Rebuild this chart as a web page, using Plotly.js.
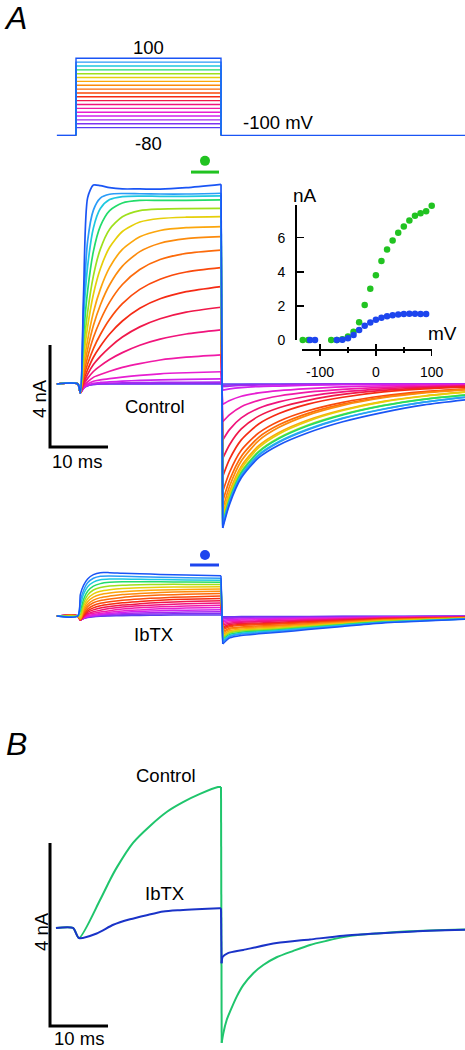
<!DOCTYPE html>
<html>
<head>
<meta charset="utf-8">
<script src="https://cdn.plot.ly/plotly-3.0.1.min.js"></script>
<style>html,body{margin:0;padding:0;background:#fff}#chart{width:465px;height:1050px}</style>
</head>
<body>
<div id="chart"></div>
<script>
// ---------- data ----------
const STEP_MV = [-80,-70,-60,-50,-40,-30,-20,-10,0,10,20,30,40,50,60,70,80,90,100];
const HOLD_MV = -100;
const HOLD_T = [-3.3, 0, null, 25, 67.2];   // ms, holding segments
const PULSE_T = [0, 0, 25, 25];             // ms, step pulse
const STEP_T = [-3.3, 0.3, 0.75, 1.3, 2, 3, 4.2, 5.8, 8, 11, 14.5, 19, 25];  // ms
const TAIL_T = [25.3, 26.5, 28.5, 31.5, 35, 40, 46, 53, 60, 67.2];         // ms

// Control currents (nA), rows in STEP_MV order
const CTRL_STEP = [
 [0,0,-0.35,-0.16,-0.07,-0.02,0,0,0,0,0,0,0],
 [0,0,-0.35,-0.16,-0.07,-0.02,0,0.01,0.01,0.01,0.02,0.02,0.02],
 [0,0,-0.35,-0.16,-0.06,0.0,0.02,0.03,0.04,0.05,0.06,0.06,0.07],
 [0,0,-0.35,-0.15,-0.05,0.03,0.06,0.08,0.11,0.14,0.16,0.18,0.2],
 [0,0,-0.35,-0.13,0.0,0.11,0.16,0.21,0.27,0.34,0.4,0.44,0.48],
 [0,0,-0.35,-0.09,0.08,0.26,0.37,0.5,0.65,0.8,0.94,1.05,1.14],
 [0,0,-0.35,-0.02,0.22,0.49,0.71,0.96,1.23,1.52,1.76,1.96,2.12],
 [0,0,-0.35,0.05,0.38,0.76,1.08,1.44,1.84,2.24,2.56,2.82,3.01],
 [0,0,-0.35,0.14,0.56,1.05,1.48,1.96,2.47,2.97,3.34,3.62,3.82],
 [0,0,-0.35,0.25,0.78,1.39,1.94,2.54,3.15,3.71,4.11,4.39,4.56],
 [0,0,-0.35,0.38,1.05,1.82,2.5,3.21,3.9,4.49,4.88,5.12,5.25],
 [0,0,-0.35,0.54,1.36,2.29,3.1,3.89,4.62,5.19,5.52,5.7,5.78],
 [0,0,-0.35,0.74,1.72,2.81,3.72,4.57,5.28,5.77,6.02,6.13,6.17],
 [0,0,-0.35,1.02,2.24,3.52,4.52,5.36,5.98,6.35,6.49,6.54,6.56],
 [0,0,-0.35,1.36,2.81,4.24,5.29,6.07,6.56,6.8,6.86,6.88,6.89],
 [0,0,-0.35,1.88,3.64,5.2,6.19,6.8,7.1,7.2,7.2,7.2,7.22],
 [0,0,-0.35,2.57,4.6,6.12,6.88,7.23,7.35,7.37,7.36,7.36,7.38],
 [0,0,-0.35,3.0,5.6,6.82,7.29,7.44,7.47,7.46,7.45,7.45,7.48],
 [0,0,-0.35,3.5,7.3,7.8,7.78,7.7,7.65,7.65,7.64,7.7,7.83]
];
const CTRL_TAIL = [
 [0,0,0,0,0,0,0,0,0,0],
 [-0.05,-0.04,-0.03,-0.02,-0.02,-0.01,0,0,0,0],
 [-0.10,-0.08,-0.06,-0.04,-0.03,-0.02,-0.01,0,0,0],
 [-0.24,-0.19,-0.14,-0.10,-0.08,-0.05,-0.03,-0.02,-0.01,-0.01],
 [-0.80,-0.65,-0.48,-0.35,-0.26,-0.18,-0.11,-0.07,-0.04,-0.03],
 [-1.48,-1.20,-0.89,-0.64,-0.47,-0.32,-0.21,-0.13,-0.08,-0.05],
 [-2.20,-1.78,-1.33,-0.95,-0.70,-0.48,-0.31,-0.19,-0.11,-0.07],
 [-2.92,-2.37,-1.76,-1.26,-0.93,-0.64,-0.41,-0.25,-0.15,-0.09],
 [-3.63,-2.94,-2.19,-1.57,-1.16,-0.79,-0.52,-0.31,-0.19,-0.12],
 [-4.22,-3.45,-2.60,-1.92,-1.46,-1.05,-0.72,-0.46,-0.30,-0.19],
 [-4.60,-3.76,-2.84,-2.09,-1.60,-1.15,-0.79,-0.51,-0.33,-0.21],
 [-4.90,-4.00,-3.02,-2.22,-1.70,-1.22,-0.84,-0.54,-0.35,-0.23],
 [-5.12,-4.21,-3.22,-2.42,-1.90,-1.41,-1.01,-0.68,-0.47,-0.31],
 [-5.28,-4.34,-3.32,-2.50,-1.96,-1.46,-1.04,-0.70,-0.48,-0.32],
 [-5.40,-4.46,-3.44,-2.64,-2.11,-1.61,-1.19,-0.84,-0.59,-0.42],
 [-5.48,-4.52,-3.49,-2.67,-2.14,-1.64,-1.21,-0.85,-0.60,-0.43],
 [-5.53,-4.58,-3.57,-2.77,-2.26,-1.77,-1.34,-0.98,-0.71,-0.51],
 [-5.58,-4.62,-3.60,-2.80,-2.28,-1.79,-1.35,-0.99,-0.71,-0.52],
 [-5.65,-4.70,-3.68,-2.89,-2.39,-1.91,-1.48,-1.11,-0.82,-0.62]
];

// IbTX currents (nA), rows in STEP_MV order
const IBTX_STEP = [
 [0,0,-0.16,-0.1,-0.06,-0.03,-0.01,0,0.01,0.02,0.03,0.04,0.04],
 [0,0,-0.16,-0.1,-0.05,-0.02,0.01,0.03,0.05,0.07,0.08,0.09,0.10],
 [0,0,-0.16,-0.09,-0.04,0,0.03,0.06,0.09,0.12,0.14,0.16,0.17],
 [0,0,-0.16,-0.08,-0.02,0.02,0.06,0.1,0.14,0.18,0.21,0.23,0.25],
 [0,0,-0.16,-0.07,0.01,0.06,0.1,0.15,0.2,0.24,0.28,0.31,0.33],
 [0,0,-0.16,-0.05,0.05,0.11,0.16,0.21,0.27,0.32,0.36,0.39,0.42],
 [0,0,-0.16,-0.03,0.09,0.17,0.23,0.29,0.35,0.4,0.44,0.48,0.51],
 [0,0,-0.16,0.0,0.14,0.24,0.31,0.37,0.43,0.48,0.53,0.57,0.60],
 [0,0,-0.16,0.03,0.2,0.32,0.4,0.46,0.52,0.57,0.62,0.66,0.69],
 [0,0,-0.15,0.08,0.27,0.41,0.5,0.56,0.62,0.67,0.71,0.75,0.78],
 [0,0,-0.14,0.13,0.36,0.52,0.61,0.67,0.73,0.78,0.82,0.85,0.88],
 [0,0,-0.12,0.2,0.45,0.62,0.72,0.78,0.84,0.88,0.92,0.95,0.97],
 [0,0,-0.1,0.28,0.56,0.74,0.84,0.9,0.95,0.99,1.02,1.04,1.06],
 [0,0,-0.05,0.38,0.68,0.87,0.97,1.03,1.08,1.11,1.13,1.14,1.15],
 [0,0,0.05,0.5,0.82,1.02,1.12,1.18,1.21,1.23,1.24,1.24,1.24],
 [0,0,0.2,0.65,0.97,1.17,1.27,1.32,1.34,1.34,1.34,1.33,1.32],
 [0,0,0.4,0.85,1.15,1.33,1.42,1.45,1.45,1.44,1.43,1.41,1.40],
 [0,0,0.6,1.0,1.3,1.48,1.56,1.57,1.56,1.54,1.52,1.5,1.48],
 [0,0,0.85,1.2,1.45,1.62,1.7,1.7,1.68,1.66,1.63,1.61,1.58]
];
const IBTX_TAIL = [
 [-0.03,-0.03,-0.02,-0.02,-0.02,-0.02,-0.01,-0.01,-0.01,0],
 [-0.07,-0.05,-0.05,-0.04,-0.04,-0.03,-0.02,-0.02,-0.01,-0.01],
 [-0.12,-0.09,-0.08,-0.08,-0.07,-0.06,-0.05,-0.03,-0.02,-0.01],
 [-0.18,-0.14,-0.12,-0.11,-0.10,-0.08,-0.07,-0.04,-0.03,-0.02],
 [-0.23,-0.18,-0.16,-0.15,-0.13,-0.11,-0.09,-0.06,-0.04,-0.03],
 [-0.30,-0.23,-0.21,-0.19,-0.17,-0.14,-0.11,-0.07,-0.05,-0.04],
 [-0.35,-0.28,-0.24,-0.22,-0.20,-0.17,-0.13,-0.09,-0.06,-0.04],
 [-0.42,-0.33,-0.29,-0.27,-0.24,-0.20,-0.16,-0.10,-0.08,-0.05],
 [-0.48,-0.38,-0.33,-0.31,-0.28,-0.23,-0.18,-0.12,-0.09,-0.06],
 [-0.54,-0.42,-0.37,-0.34,-0.31,-0.26,-0.20,-0.13,-0.10,-0.06],
 [-0.62,-0.48,-0.43,-0.39,-0.36,-0.30,-0.23,-0.15,-0.11,-0.07],
 [-0.67,-0.52,-0.46,-0.43,-0.39,-0.32,-0.25,-0.16,-0.12,-0.08],
 [-0.74,-0.58,-0.51,-0.47,-0.43,-0.36,-0.27,-0.18,-0.13,-0.09],
 [-0.80,-0.63,-0.55,-0.51,-0.47,-0.39,-0.30,-0.20,-0.15,-0.09],
 [-0.86,-0.67,-0.59,-0.55,-0.50,-0.41,-0.32,-0.21,-0.16,-0.10],
 [-0.92,-0.72,-0.64,-0.59,-0.54,-0.45,-0.34,-0.23,-0.17,-0.11],
 [-0.98,-0.77,-0.68,-0.62,-0.57,-0.47,-0.36,-0.24,-0.18,-0.12],
 [-1.03,-0.81,-0.71,-0.66,-0.60,-0.50,-0.39,-0.25,-0.19,-0.12],
 [-1.10,-0.86,-0.76,-0.70,-0.64,-0.53,-0.41,-0.27,-0.20,-0.13]
];

// I-V inset
const IV_CTRL_MV = [-131,-121,-80,-70,-60,-50,-40,-30,-20,-10,0,10,20,30,40,50,60,70,80,90,100];
const IV_CTRL_NA = [0,0,0,0,0.05,0.2,0.49,1.04,2.05,3.0,3.8,4.63,5.31,5.84,6.29,6.66,7.01,7.29,7.44,7.56,7.87];
const IV_IBTX_MV = [-118,-109,-70,-60,-50,-40,-30,-20,-10,0,10,20,30,40,50,60,70,80,90];
const IV_IBTX_NA = [0,0,0,0.02,0.1,0.3,0.58,0.84,1.03,1.19,1.31,1.39,1.45,1.5,1.52,1.54,1.54,1.52,1.52];
const IV_XTICKS = [-100,0,100];
const IV_XTICKTEXT = ['-100','0','100'];
const IV_XMINOR = [-50,50];
const IV_YTICKS = [0,2,4,6];
const IV_YTICKTEXT = ['0','2','4','6'];

// measurement windows (ms, nA)
const CTRL_WIN_T = [19.83, 24.66], CTRL_WIN_NA = [8.31, 8.31];
const CTRL_DOT_T = [22.24], CTRL_DOT_NA = [8.75];
const IBTX_WIN_T = [19.66, 24.66], IBTX_WIN_NA = [2.0, 2.0];
const IBTX_DOT_T = [22.24], IBTX_DOT_NA = [2.39];

// scale bars (10 ms, 4 nA)
const SB_A_T = [-4.48, -4.48, 5.52], SB_A_NA = [1.53, -2.47, -2.47];
const SB_B_T = [-4.48, -4.48, 5.52], SB_B_NA = [1.858, -2.142, -2.142];

// Panel B traces (ms, nA)
const B_CTRL_STEP_T  = [-3.45,-0.52,0.52,4.14,5.86,7.07,9.83,12.76,15.69,18.45,21.38,24.48,25];
const B_CTRL_STEP_NA = [0,0,-0.22,0.61,1.05,1.33,1.86,2.23,2.54,2.75,2.93,3.08,3.08];
const B_CTRL_TAIL_T  = [25.12,25.4,25.98,26.55,27.71,28.84,30.57,32.29,34.59,37.47,40.34,43.22,46.09,48.97,51.84,57.59,67.2];
const B_CTRL_TAIL_NA = [-2.51,-2.30,-2.01,-1.83,-1.50,-1.25,-0.99,-0.81,-0.64,-0.50,-0.37,-0.28,-0.20,-0.15,-0.12,-0.07,-0.03];
const B_IBTX_STEP_T  = [-3.45,-0.52,0.52,3.57,6.43,9.31,12.19,15.05,17.93,20.81,24.71,25];
const B_IBTX_STEP_NA = [0,0,-0.22,-0.12,0.07,0.19,0.28,0.36,0.39,0.41,0.43,0.43];
const B_IBTX_TAIL_T  = [25.1,25.3,26.2,28.84,34.59,40.34,46.09,51.84,57.59,67.2];
const B_IBTX_TAIL_NA = [-0.77,-0.63,-0.55,-0.48,-0.33,-0.25,-0.17,-0.12,-0.08,-0.04];

// ---------- styles ----------
const STEP_COLORS = ['#5a3cf2','#7e32f2','#a52af0','#cf22ee','#e61ed2','#f01aa8','#f0147c','#f0184a','#f52a14','#fa4a0c','#fc6a0a','#fc8a0c','#fca60c','#e6cf0a','#9ee01c','#22dc6a','#1ec8e0','#2a9cf8','#1a55f5'];
const HOLD_COLOR = '#1a55f5';
const GREEN = '#21c321', BLUE = '#1d45ee', B_GREEN = '#1fc56c', B_BLUE = '#1a33c8';
const FONT = 'Liberation Sans, Arial, Helvetica, sans-serif';
const W = 465, H = 1050;
const fx = p => p / W, fy = p => 1 - p / H;
const T_RANGE = [-13.103, 67.069];
const IV_XRANGE = [-132.3, 100.5];
const SMOOTH = 0.7;

// joins step + drop + tail into one trace with gaps so each piece is smoothed on its own
function joinPieces(stepT, stepY, tailT, tailY) {
  const n = stepT.length - 1;
  return {
    x: stepT.concat([null, stepT[n], tailT[0], null], tailT),
    y: stepY.concat([null, stepY[n], tailY[0], null], tailY)
  };
}

const traces = [];
// protocol
STEP_MV.forEach((v, i) => {
  traces.push({x: PULSE_T, y: [HOLD_MV, v, v, HOLD_MV], xaxis: 'x', yaxis: 'y',
    mode: 'lines', line: {color: STEP_COLORS[i], width: 1.4}, hoverinfo: 'skip'});
});
traces.push({x: HOLD_T, y: HOLD_T.map(t => t === null ? null : HOLD_MV), xaxis: 'x', yaxis: 'y',
  mode: 'lines', line: {color: HOLD_COLOR, width: 1.4}, hoverinfo: 'skip'});
// control
STEP_MV.forEach((v, i) => {
  const p = joinPieces(STEP_T, CTRL_STEP[i], TAIL_T, CTRL_TAIL[i]);
  traces.push({x: p.x, y: p.y, xaxis: 'x2', yaxis: 'y2', mode: 'lines',
    line: {color: STEP_COLORS[i], width: 1.7, shape: 'spline', smoothing: SMOOTH}, hoverinfo: 'skip'});
});
// ibtx
STEP_MV.forEach((v, i) => {
  const p = joinPieces(STEP_T, IBTX_STEP[i], TAIL_T, IBTX_TAIL[i]);
  traces.push({x: p.x, y: p.y, xaxis: 'x3', yaxis: 'y3', mode: 'lines',
    line: {color: STEP_COLORS[i], width: 1.5, shape: 'spline', smoothing: SMOOTH}, hoverinfo: 'skip'});
});
// windows + dots
traces.push({x: CTRL_WIN_T, y: CTRL_WIN_NA, xaxis: 'x2', yaxis: 'y2', mode: 'lines', line: {color: GREEN, width: 3}});
traces.push({x: CTRL_DOT_T, y: CTRL_DOT_NA, xaxis: 'x2', yaxis: 'y2', mode: 'markers', marker: {color: GREEN, size: 10}});
traces.push({x: IBTX_WIN_T, y: IBTX_WIN_NA, xaxis: 'x3', yaxis: 'y3', mode: 'lines', line: {color: BLUE, width: 3}});
traces.push({x: IBTX_DOT_T, y: IBTX_DOT_NA, xaxis: 'x3', yaxis: 'y3', mode: 'markers', marker: {color: BLUE, size: 10}});
// scale bars
traces.push({x: SB_A_T, y: SB_A_NA, xaxis: 'x2', yaxis: 'y2', mode: 'lines', line: {color: '#000', width: 3}});
traces.push({x: SB_B_T, y: SB_B_NA, xaxis: 'x5', yaxis: 'y5', mode: 'lines', line: {color: '#000', width: 3}});
// inset
traces.push({x: IV_CTRL_MV, y: IV_CTRL_NA, xaxis: 'x4', yaxis: 'y4', mode: 'markers', marker: {color: GREEN, size: 6.5}, cliponaxis: false});
traces.push({x: IV_IBTX_MV, y: IV_IBTX_NA, xaxis: 'x4', yaxis: 'y4', mode: 'markers', marker: {color: BLUE, size: 6.5}, cliponaxis: false});
traces.push({x: [null], y: [null], xaxis: 'x6', yaxis: 'y4', mode: 'markers'});
// panel B
const bc = joinPieces(B_CTRL_STEP_T, B_CTRL_STEP_NA, B_CTRL_TAIL_T, B_CTRL_TAIL_NA);
const bi = joinPieces(B_IBTX_STEP_T, B_IBTX_STEP_NA, B_IBTX_TAIL_T, B_IBTX_TAIL_NA);
traces.push({x: bc.x, y: bc.y, xaxis: 'x5', yaxis: 'y5', mode: 'lines', line: {color: B_GREEN, width: 2, shape: 'spline', smoothing: SMOOTH}});
traces.push({x: bi.x, y: bi.y, xaxis: 'x5', yaxis: 'y5', mode: 'lines', line: {color: B_BLUE, width: 2, shape: 'spline', smoothing: SMOOTH}});

const hidden = {visible: false, fixedrange: true};
const tax = (anchor) => Object.assign({domain: [0, 1], range: T_RANGE, anchor: anchor}, hidden);

const ann = (text, px, py, size, extra) => Object.assign({text: text, x: fx(px), y: fy(py), xref: 'paper', yref: 'paper',
  xanchor: 'center', yanchor: 'middle', showarrow: false, font: {family: FONT, size: size, color: '#000'}}, extra || {});

const layout = {
  width: W, height: H, margin: {l: 0, r: 0, t: 0, b: 0},
  paper_bgcolor: '#fff', plot_bgcolor: 'rgba(0,0,0,0)', showlegend: false,
  xaxis: tax('y'),
  yaxis: Object.assign({domain: [fy(145), fy(50)], range: [-125.1, 121.5], anchor: 'x'}, hidden),
  xaxis2: tax('y2'),
  yaxis2: Object.assign({domain: [fy(545), fy(150)], range: [-6.314, 9.176], anchor: 'x2'}, hidden),
  xaxis3: tax('y3'),
  yaxis3: Object.assign({domain: [fy(660), fy(545)], range: [-1.725, 2.784], anchor: 'x3'}, hidden),
  xaxis5: tax('y5'),
  yaxis5: Object.assign({domain: [0, fy(760)], range: [-2.667, 3.672], anchor: 'x5'}, hidden),
  xaxis4: {domain: [fx(302), fx(432)], range: IV_XRANGE, anchor: 'free', position: fy(349.3),
    showline: true, linecolor: '#000', linewidth: 1.5, showgrid: false, zeroline: false,
    ticks: 'outside', ticklen: 5, tickwidth: 1.5, tickcolor: '#000',
    tickmode: 'array', tickvals: IV_XTICKS, ticktext: IV_XTICKTEXT, ticklabelstandoff: 4,
    tickfont: {family: FONT, size: 14, color: '#000'},
    minor: {tickmode: 'array', tickvals: IV_XMINOR, ticks: 'outside', ticklen: 2.5, tickwidth: 1.5, tickcolor: '#000', showgrid: false},
    fixedrange: true},
  xaxis6: {overlaying: 'x4', range: IV_XRANGE, anchor: 'free', position: fy(349.3),
    showline: false, showgrid: false, zeroline: false, showticklabels: false,
    ticks: 'inside', ticklen: 5, tickwidth: 1.5, tickcolor: '#000',
    tickmode: 'array', tickvals: IV_XTICKS,
    minor: {tickmode: 'array', tickvals: IV_XMINOR, ticks: 'inside', ticklen: 2.5, tickwidth: 1.5, tickcolor: '#000', showgrid: false},
    fixedrange: true},
  yaxis4: {domain: [fy(340), fy(205)], range: [0, 7.92], anchor: 'free', position: fx(295),
    showline: true, linecolor: '#000', linewidth: 1.5, showgrid: false, zeroline: false,
    ticks: 'inside', ticklen: 7, tickwidth: 1.5, tickcolor: '#000',
    tickmode: 'array', tickvals: IV_YTICKS, ticktext: IV_YTICKTEXT, ticklabelstandoff: 7,
    tickfont: {family: FONT, size: 14, color: '#000'}, fixedrange: true},
  annotations: [
    ann('<i>A</i>', 15, 18, 32),
    ann('100', 148, 47, 18.5),
    ann('-80', 148, 143.5, 18.5),
    ann('-100 mV', 278, 122.5, 18.5),
    ann('nA', 305, 195, 19),
    ann('mV', 442, 333, 19),
    ann('Control', 155, 406.5, 18.5),
    ann('4 nA', 39, 399, 18.5, {textangle: -90}),
    ann('10 ms', 77, 461.5, 18.5),
    ann('IbTX', 153, 634, 18.5),
    ann('<i>B</i>', 16, 744, 32),
    ann('Control', 166, 775.5, 18.5),
    ann('IbTX', 164, 893.5, 18.5),
    ann('4 nA', 41, 932, 18.5, {textangle: -90}),
    ann('10 ms', 79, 1038, 18.5)
  ]
};

Plotly.newPlot('chart', traces, layout, {staticPlot: true, displayModeBar: false});
</script>
</body>
</html>
